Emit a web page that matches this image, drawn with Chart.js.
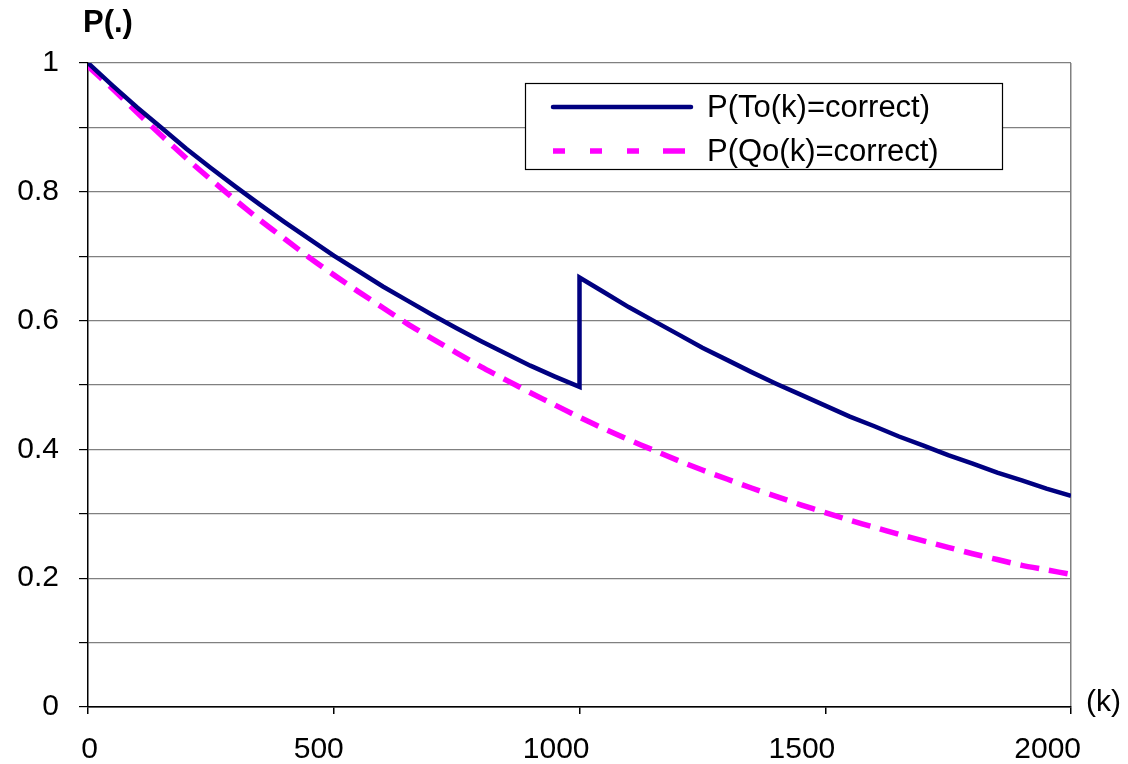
<!DOCTYPE html>
<html>
<head>
<meta charset="utf-8">
<script src="https://cdn.jsdelivr.net/npm/chart.js@4/dist/chart.umd.min.js"></script>
<style>
    html, body { margin: 0; padding: 0; background: #ffffff; }
    #wrap { width: 1128px; height: 764px; position: relative; }
</style>
</head>
<body>
<div id="wrap"><canvas id="probChart" width="1128" height="764"></canvas></div>
<script>
(function () {
    'use strict';

    // k values for the T curve (1000 appears twice: value before and after the jump)
    var kT = [0, 50, 100, 150, 200, 250, 300, 350, 400, 450, 500, 550, 600, 650, 700, 750, 800, 850, 900, 950, 1000,
        1000, 1050, 1100, 1150, 1200, 1250, 1300, 1350, 1400, 1450, 1500, 1550, 1600, 1650, 1700, 1750, 1800, 1850, 1900, 1950, 2000];
    var pT = [1.000, 0.965, 0.931, 0.899, 0.867, 0.837, 0.808, 0.780, 0.753, 0.727, 0.701, 0.677, 0.653, 0.631, 0.609, 0.588, 0.568, 0.549, 0.530, 0.513, 0.497,
        0.667, 0.644, 0.621, 0.600, 0.579, 0.558, 0.539, 0.520, 0.502, 0.485, 0.468, 0.451, 0.436, 0.420, 0.406, 0.391, 0.378, 0.364, 0.352, 0.339, 0.328];

    var kQ = [0, 50, 100, 150, 200, 250, 300, 350, 400, 450, 500, 550, 600, 650, 700, 750, 800, 850, 900, 950, 1000,
        1050, 1100, 1150, 1200, 1250, 1300, 1350, 1400, 1450, 1500, 1550, 1600, 1650, 1700, 1750, 1800, 1850, 1900, 1950, 2000];
    var pQ = [0.995, 0.960, 0.923, 0.887, 0.852, 0.819, 0.787, 0.756, 0.727, 0.698, 0.671, 0.645, 0.620, 0.595, 0.572, 0.550, 0.528, 0.508, 0.488, 0.469, 0.450,
        0.432, 0.415, 0.399, 0.383, 0.368, 0.354, 0.340, 0.327, 0.314, 0.302, 0.290, 0.279, 0.268, 0.258, 0.248, 0.238, 0.229, 0.220, 0.213, 0.206];

    var seriesLabels = ['P(To(k)=correct)', 'P(Qo(k)=correct)'];
    var xTicks = [0, 500, 1000, 1500, 2000];
    var yTickLabels = ['0', '0.2', '0.4', '0.6', '0.8', '1'];

    var C = {
        navy: '#000080',
        magenta: '#ff00ff',
        grid: '#808080',
        axis: '#000000',
        text: '#000000'
    };
    var FONT = "'Liberation Sans', Arial, sans-serif";

    function points(xs, ys) {
        return xs.map(function (x, i) { return { x: x, y: ys[i] }; });
    }

    // legend box and axis titles drawn on top of the plot
    var overlay = {
        id: 'overlay',
        afterDraw: function (chart) {
            var ctx = chart.ctx;
            var area = chart.chartArea;
            ctx.save();

            ctx.fillStyle = C.text;
            ctx.font = 'bold 31px ' + FONT;
            ctx.textAlign = 'left';
            ctx.textBaseline = 'middle';
            ctx.fillText('P(.)', 83, 23);

            ctx.font = '30px ' + FONT;
            ctx.fillText('(k)', area.right + 15, area.bottom - 4);

            // legend
            var bx = 525, by = 83, bw = 477, bh = 86;
            ctx.fillStyle = '#ffffff';
            ctx.fillRect(bx, by, bw, bh);
            ctx.strokeStyle = C.axis;
            ctx.lineWidth = 1.2;
            ctx.strokeRect(bx + 0.5, by + 0.5, bw, bh);

            chart.data.datasets.forEach(function (ds, i) {
                var y = i === 0 ? 107 : 151;
                ctx.strokeStyle = ds.borderColor;
                ctx.lineWidth = ds.borderWidth;
                ctx.beginPath();
                if (i === 0) {
                    ctx.lineCap = 'round';
                    ctx.moveTo(553, y);
                    ctx.lineTo(691, y);
                } else {
                    ctx.lineCap = 'butt';
                    [[553, 565], [590, 602], [627, 639], [663, 685]].forEach(function (d) {
                        ctx.moveTo(d[0], y);
                        ctx.lineTo(d[1], y);
                    });
                }
                ctx.stroke();

                ctx.fillStyle = C.text;
                ctx.font = '31px ' + FONT;
                ctx.textAlign = 'left';
                ctx.fillText(ds.label, 707, y + 1);
            });

            ctx.restore();
        }
    };

    new Chart(document.getElementById('probChart'), {
        type: 'line',
        data: {
            datasets: [{
                label: seriesLabels[0],
                data: points(kT, pT),
                borderColor: C.navy,
                borderWidth: 4.5,
                pointRadius: 0,
                tension: 0,
                fill: false
            }, {
                label: seriesLabels[1],
                data: points(kQ, pQ),
                borderColor: C.magenta,
                borderWidth: 5.5,
                borderDash: [19, 10],
                pointRadius: 0,
                tension: 0.2,
                fill: false
            }]
        },
        options: {
            responsive: false,
            animation: false,
            layout: { padding: { top: 63, right: 57, left: 0, bottom: 0 } },
            plugins: {
                legend: { display: false },
                tooltip: { enabled: false }
            },
            scales: {
                x: {
                    type: 'linear',
                    min: 0,
                    max: 2000,
                    afterBuildTicks: function (axis) {
                        axis.ticks = xTicks.map(function (v) { return { value: v }; });
                    },
                    afterFit: function (axis) { axis.height = 57; },
                    grid: {
                        color: function (c) { return c.tick && c.tick.value === 2000 ? C.grid : 'rgba(0,0,0,0)'; },
                        tickColor: C.axis,
                        tickLength: 7,
                        lineWidth: 1.5
                    },
                    border: { display: true, color: C.axis, width: 1.5 },
                    ticks: {
                        color: C.text,
                        font: { family: FONT, size: 30 },
                        padding: 18,
                        align: 'end',
                        labelOffset: 10,
                        maxRotation: 0,
                        callback: function (v) { return String(v); }
                    }
                },
                y: {
                    min: 0,
                    max: 1,
                    afterBuildTicks: function (axis) {
                        var t = [];
                        for (var i = 0; i <= 10; i++) t.push({ value: i / 10 });
                        axis.ticks = t;
                    },
                    afterFit: function (axis) { axis.width = 88; },
                    grid: {
                        color: function (c) { return c.tick && c.tick.value === 0 ? C.axis : C.grid; },
                        tickColor: C.axis,
                        tickLength: 9,
                        lineWidth: 1.2
                    },
                    border: { display: true, color: C.axis, width: 1.5 },
                    ticks: {
                        color: C.text,
                        font: { family: FONT, size: 30 },
                        padding: 20,
                        callback: function (v, i) { return i % 2 === 0 ? yTickLabels[i / 2] : ''; }
                    }
                }
            }
        },
        plugins: [overlay]
    });
})();
</script>
</body>
</html>
